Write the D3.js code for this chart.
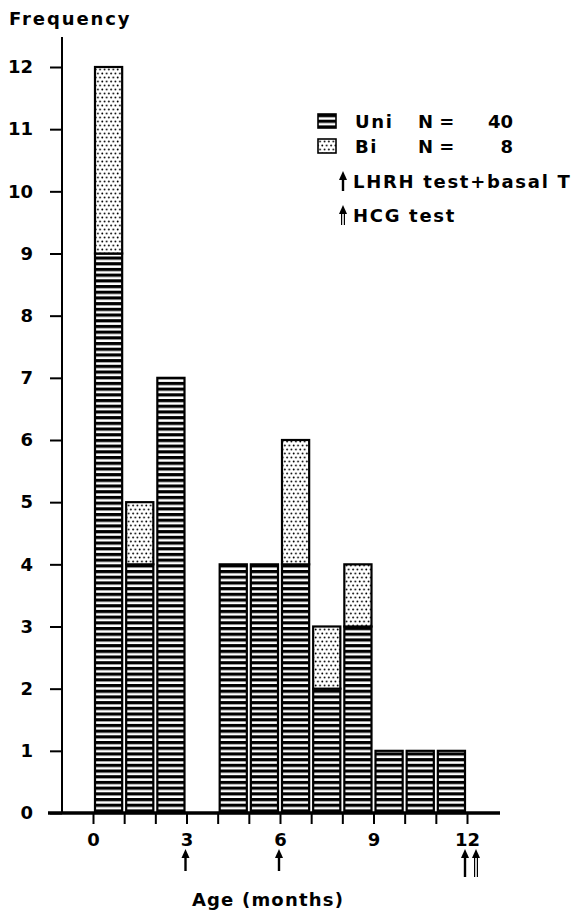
<!DOCTYPE html>
<html>
<head>
<meta charset="utf-8">
<script src="https://cdn.jsdelivr.net/npm/d3@7"></script>
<style>
  html, body { margin: 0; padding: 0; background: #fff; }
  svg { display: block; }
  text { font-family: "DejaVu Sans", "Liberation Sans", sans-serif; font-weight: bold; fill: #000; }
</style>
</head>
<body>
<svg id="chart" width="576" height="915"></svg>
<script>
// Age at diagnosis (months), one bar per month interval
const months = [0, 1, 2, 3, 4, 5, 6, 7, 8, 9, 10, 11];
// Unilateral cases per month (N = 40)
const uniCounts = [9, 4, 7, 0, 4, 4, 4, 2, 3, 1, 1, 1];
// Bilateral cases per month (N = 8)
const biCounts = [3, 1, 0, 0, 0, 0, 2, 1, 1, 0, 0, 0];
const yTickValues = [0, 1, 2, 3, 4, 5, 6, 7, 8, 9, 10, 11, 12];
const xTickValues = [0, 1, 2, 3, 4, 5, 6, 7, 8, 9, 10, 11, 12];
const xTickLabels = [0, 3, 6, 9, 12];
// Months at which tests were done
const lhrhMonths = [3, 6, 12];
const hcgMonths = [12];
const legendRows = [
  { label: "Uni", n: "40", pattern: "stripes" },
  { label: "Bi", n: "8", pattern: "dots" }
];

const svg = d3.select("#chart");
const x = d3.scaleLinear().domain([0, 12]).range([93, 467]);
const y = d3.scaleLinear().domain([0, 12]).range([813, 67]);

// Fill patterns
const defs = svg.append("defs");
const stripes = defs.append("pattern")
  .attr("id", "stripes").attr("patternUnits", "userSpaceOnUse")
  .attr("width", 10).attr("height", 5.7);
stripes.append("rect").attr("width", 10).attr("height", 5.7).attr("fill", "#fff");
stripes.append("rect").attr("width", 10).attr("height", 3.2).attr("fill", "#000");

const dots = defs.append("pattern")
  .attr("id", "dots").attr("patternUnits", "userSpaceOnUse")
  .attr("width", 4.4).attr("height", 8);
dots.append("rect").attr("width", 4.4).attr("height", 8).attr("fill", "#fff");
dots.append("circle").attr("cx", 1.1).attr("cy", 1.5).attr("r", 0.9).attr("fill", "#000");
dots.append("circle").attr("cx", 3.3).attr("cy", 5.5).attr("r", 0.9).attr("fill", "#000");

// Stacked bars
const rows = months.map((m, i) => ({ m, uni: uniCounts[i], bi: biCounts[i] }));
const barG = svg.append("g");
function drawSegments(data, from, to, fill) {
  barG.selectAll(null)
    .data(data.filter(d => to(d) > from(d)))
    .join("rect")
    .attr("x", d => x(d.m) + 2)
    .attr("width", d => x(d.m + 1) - x(d.m) - 4)
    .attr("y", d => y(to(d)))
    .attr("height", d => y(from(d)) - y(to(d)))
    .attr("fill", fill)
    .attr("stroke", "#000")
    .attr("stroke-width", 2.2);
}
drawSegments(rows, d => 0, d => d.uni, "url(#stripes)");
drawSegments(rows, d => d.uni, d => d.uni + d.bi, "url(#dots)");

// Y axis
const yAxis = svg.append("g")
  .attr("transform", "translate(62,0)")
  .call(d3.axisLeft(y).tickValues(yTickValues).tickSize(12).tickPadding(17).tickFormat(d3.format("d")));
yAxis.select(".domain").remove();
yAxis.selectAll(".tick line").attr("stroke", "#000").attr("stroke-width", 2);
yAxis.selectAll(".tick text").attr("font-size", 18).attr("font-family", null);
svg.append("line")
  .attr("x1", 62).attr("x2", 62).attr("y1", 37).attr("y2", y(0))
  .attr("stroke", "#000").attr("stroke-width", 2);

// X axis
const xAxis = svg.append("g")
  .attr("transform", `translate(0,${y(0)})`)
  .call(d3.axisBottom(x).tickValues(xTickValues).tickSize(11).tickPadding(9)
    .tickFormat(d => xTickLabels.includes(d) ? d : ""));
xAxis.select(".domain").remove();
xAxis.selectAll(".tick line").attr("stroke", "#000").attr("stroke-width", 2);
xAxis.selectAll(".tick text").attr("font-size", 18).attr("font-family", null);
svg.append("line")
  .attr("x1", 48).attr("x2", 500).attr("y1", y(0)).attr("y2", y(0))
  .attr("stroke", "#000").attr("stroke-width", 3.5);

// Arrow glyphs: single shaft (LHRH test) and double shaft (HCG test)
function singleArrow(g, cx, top, bottom) {
  g.append("line").attr("x1", cx).attr("x2", cx).attr("y1", top + 6).attr("y2", bottom)
    .attr("stroke", "#000").attr("stroke-width", 2.4);
  g.append("path").attr("d", `M${cx},${top} L${cx - 4},${top + 9} L${cx + 4},${top + 9} Z`).attr("fill", "#000");
}
function doubleArrow(g, cx, top, bottom) {
  [-1.4, 1.4].forEach(o => {
    g.append("line").attr("x1", cx + o).attr("x2", cx + o).attr("y1", top + 6).attr("y2", bottom)
      .attr("stroke", "#000").attr("stroke-width", 1.2);
  });
  g.append("path").attr("d", `M${cx},${top} L${cx - 4},${top + 9} L${cx + 4},${top + 9} Z`).attr("fill", "#000");
}
const arrowG = svg.append("g");
lhrhMonths.forEach(m => {
  const shared = hcgMonths.includes(m);
  singleArrow(arrowG, x(m) - (shared ? 2 : 1), 849, shared ? 877 : 871);
});
hcgMonths.forEach(m => doubleArrow(arrowG, x(m) + 9, 849, 877));

// Axis titles
svg.append("text").attr("x", 9).attr("y", 25)
  .attr("font-size", 18).attr("letter-spacing", 1.9).text("Frequency");
svg.append("text").attr("x", 268).attr("y", 906).attr("text-anchor", "middle")
  .attr("font-size", 18).attr("letter-spacing", 1.2).text("Age (months)");

// Legend
const leg = svg.append("g");
legendRows.forEach((r, i) => {
  const top = 114 + i * 25;
  leg.append("rect").attr("x", 318).attr("y", top).attr("width", 18).attr("height", 14)
    .attr("fill", `url(#${r.pattern})`).attr("stroke", "#000").attr("stroke-width", 1.6);
  leg.append("text").attr("x", 355).attr("y", top + 14).attr("font-size", 18)
    .attr("letter-spacing", 1.6).text(r.label);
  leg.append("text").attr("x", 418).attr("y", top + 14).attr("font-size", 18).text("N =");
  leg.append("text").attr("x", 513).attr("y", top + 14).attr("font-size", 18)
    .attr("text-anchor", "end").text(r.n);
});
singleArrow(leg, 343, 171, 191);
leg.append("text").attr("x", 353).attr("y", 188).attr("font-size", 18)
  .attr("letter-spacing", 1.7).text("LHRH test+basal T");
doubleArrow(leg, 343, 205, 225);
leg.append("text").attr("x", 353).attr("y", 222).attr("font-size", 18)
  .attr("letter-spacing", 1.7).text("HCG test");
</script>
</body>
</html>
